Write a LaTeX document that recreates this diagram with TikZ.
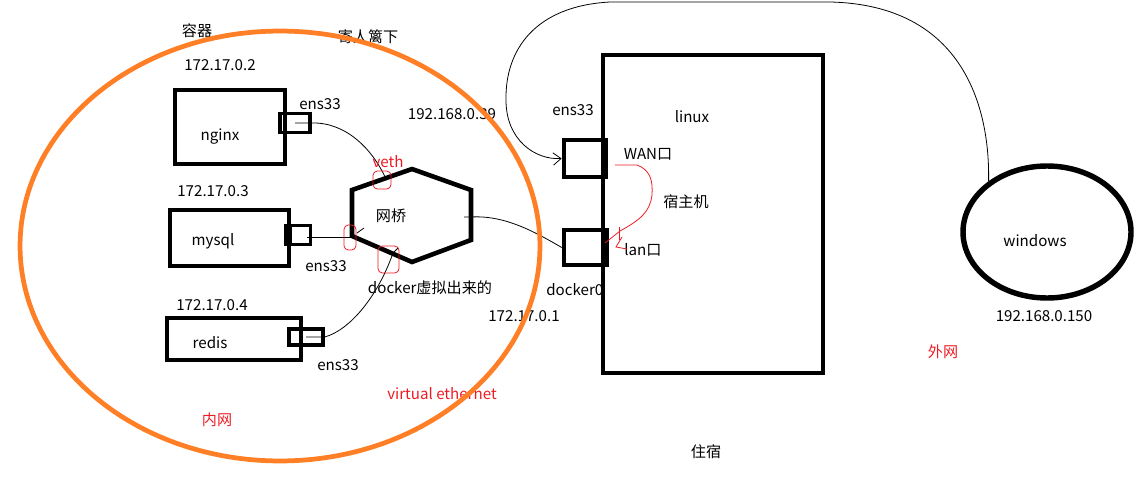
\documentclass[tikz,border=0pt]{standalone}
\usepackage{fontspec}
\setmainfont{Noto Sans CJK SC}
\usetikzlibrary{shapes.geometric,arrows.meta}
\definecolor{paintorange}{RGB}{255,127,39}
\definecolor{painred}{RGB}{237,28,36}
\tikzset{
  lbl/.style={inner sep=0pt, font=\fontsize{8.6}{10}\selectfont},
  redlbl/.style={lbl, text=painred},
  bigbox/.style={draw, line width=2.6pt, inner sep=0pt},
  portbox/.style={draw, line width=2pt, inner sep=0pt},
  wire/.style={line width=0.45pt},
  redwire/.style={line width=0.45pt, draw=painred},
  mark loop/.style={draw=painred, line width=0.45pt, rounded corners=2.5pt},
}
\begin{document}
\begin{tikzpicture}[x=0.02cm,y=-0.02cm]
\useasboundingbox (0,0) rectangle (1143,480);

% ---------- containers ----------
\node[bigbox, minimum width={110*0.02cm}, minimum height={74*0.02cm}] (nginxbox) at (230,127) {};
\node[portbox, minimum width={30*0.02cm}, minimum height={19*0.02cm}] (nginxport) at (295,123) {};
\node[lbl] (nginxtxt) at (220,137) {nginx};
\node[lbl] (ip2) at (220,65) {172.17.0.2};
\node[lbl] (ens1) at (320,104) {ens33};

\node[bigbox, minimum width={119*0.02cm}, minimum height={56*0.02cm}] (mysqlbox) at (229.5,238) {};
\node[portbox, minimum width={25*0.02cm}, minimum height={19*0.02cm}] (mysqlport) at (298,235) {};
\fill (284,224.5) rectangle (292,245.5);
\node[lbl] (mysqltxt) at (213,241) {mysql};
\node[lbl] (ip3) at (213,191) {172.17.0.3};
\node[lbl] (ens2) at (326,266) {ens33};

\node[bigbox, minimum width={134*0.02cm}, minimum height={42*0.02cm}] (redisbox) at (234,339) {};
\node[portbox, minimum width={34*0.02cm}, minimum height={16*0.02cm}] (redisport) at (306,337) {};
\node[lbl] (redistxt) at (210,343) {redis};
\node[lbl] (ip4) at (212,305) {172.17.0.4};
\node[lbl] (ens3) at (338,365) {ens33};

% ---------- bridge (hexagon) ----------
\draw[line width=2.6pt, line join=miter] (352,190) -- (412,169) -- (471,190) -- (471,240) -- (412,262) -- (352,236) -- cycle;
\node[lbl] (bridge) at (391,216) {网桥};
\coordinate (hexA) at (386,179);
\coordinate (hexB) at (352,237);
\coordinate (hexC) at (393,253);
\coordinate (hexD) at (464,217);
\draw[wire] (364,228) -- (357,233);

% connectors container -> bridge
\draw[wire] (nginxport.center) -- (nginxport.east) .. controls (345,122) and (372,148) .. (hexA);
\draw[wire] (307,237) -- (hexB);
\draw[wire] (redisport.center) -- (redisport.east) .. controls (350,330) and (378,296) .. (hexC) -- (398,248);

% red marks
\draw[mark loop] (373,171) rectangle (391,189);
\draw[mark loop] (344,225) rectangle (356,250);
\draw[mark loop] (378,246) rectangle (399,273);
\node[redlbl] (veth) at (388,162) {veth};

% ---------- host ----------
\node[lbl] (ens4) at (573,110) {ens33};
\node[lbl] (wantxt) at (648,154) {WAN口};
\node[lbl] (host) at (686,202) {宿主机};
\node[lbl] (lantxt) at (643,250) {lan口};
\node[lbl, anchor=west] (docker0) at (546,290) {docker0};
\node[lbl] (ip1) at (524,316) {172.17.0.1};
\node[lbl] (ip39) at (452,114) {192.168.0.39};
\node[bigbox, minimum width={220*0.02cm}, minimum height={318*0.02cm}] (linux) at (713,214) {};
\node[lbl] (linuxtxt) at (692,117) {linux};
\node[bigbox, minimum width={42*0.02cm}, minimum height={37*0.02cm}] (wan) at (585,158.5) {};
\node[bigbox, minimum width={43*0.02cm}, minimum height={35*0.02cm}] (lan) at (585.5,247.5) {};

% bridge -> docker0
\draw[wire] (hexD) -- (471,217) .. controls (505,215) and (535,232) .. (lan.west);

% red curve WAN -> lan
\draw[redwire] (615,165) -- (637,165) .. controls (650,170) and (653,180) .. (652,195)
  .. controls (650,212) and (640,220) .. (620,231) -- (605,243);
\draw[redwire] (619,227) -- (619,240);
\draw[redwire] (622,237) -- (616,247) -- (627,249);

% ---------- windows ----------
\node[draw, ellipse, line width=3.1pt, minimum width={168*0.02cm}, minimum height={132*0.02cm}, inner sep=0pt] (win) at (1047,232) {};
\node[lbl] (wintxt) at (1035,241) {windows};
\node[lbl] (ip150) at (1044,316) {192.168.0.150};
\draw[wire, -{Straight Barb[length=4.5pt,width=7pt]}] (win.139) .. controls (990,110) and (965,5) .. (830,2)
  -- (610,2) .. controls (535,6) and (505,50) .. (506,100)
  .. controls (506,140) and (535,160) .. (wan.west);

% ---------- other labels ----------
\node[lbl] (rongqi) at (197,31) {容器};
\node[lbl] (jiren) at (368,37) {寄人篱下};
\node[lbl] (dockervirt) at (430,288) {docker虚拟出来的};
\node[redlbl] (vether) at (442,394) {virtual ethernet};
\node[redlbl] (neiwang) at (217,420) {内网};
\node[redlbl] (waiwang) at (943,352) {外网};
\node[lbl] (zhusu) at (706,452) {住宿};

% ---------- orange ellipse (on top) ----------
\draw[draw=paintorange, line width=2.7pt] (280,246) ellipse [x radius=5.2cm, y radius=4.3cm];
\end{tikzpicture}
\end{document}
